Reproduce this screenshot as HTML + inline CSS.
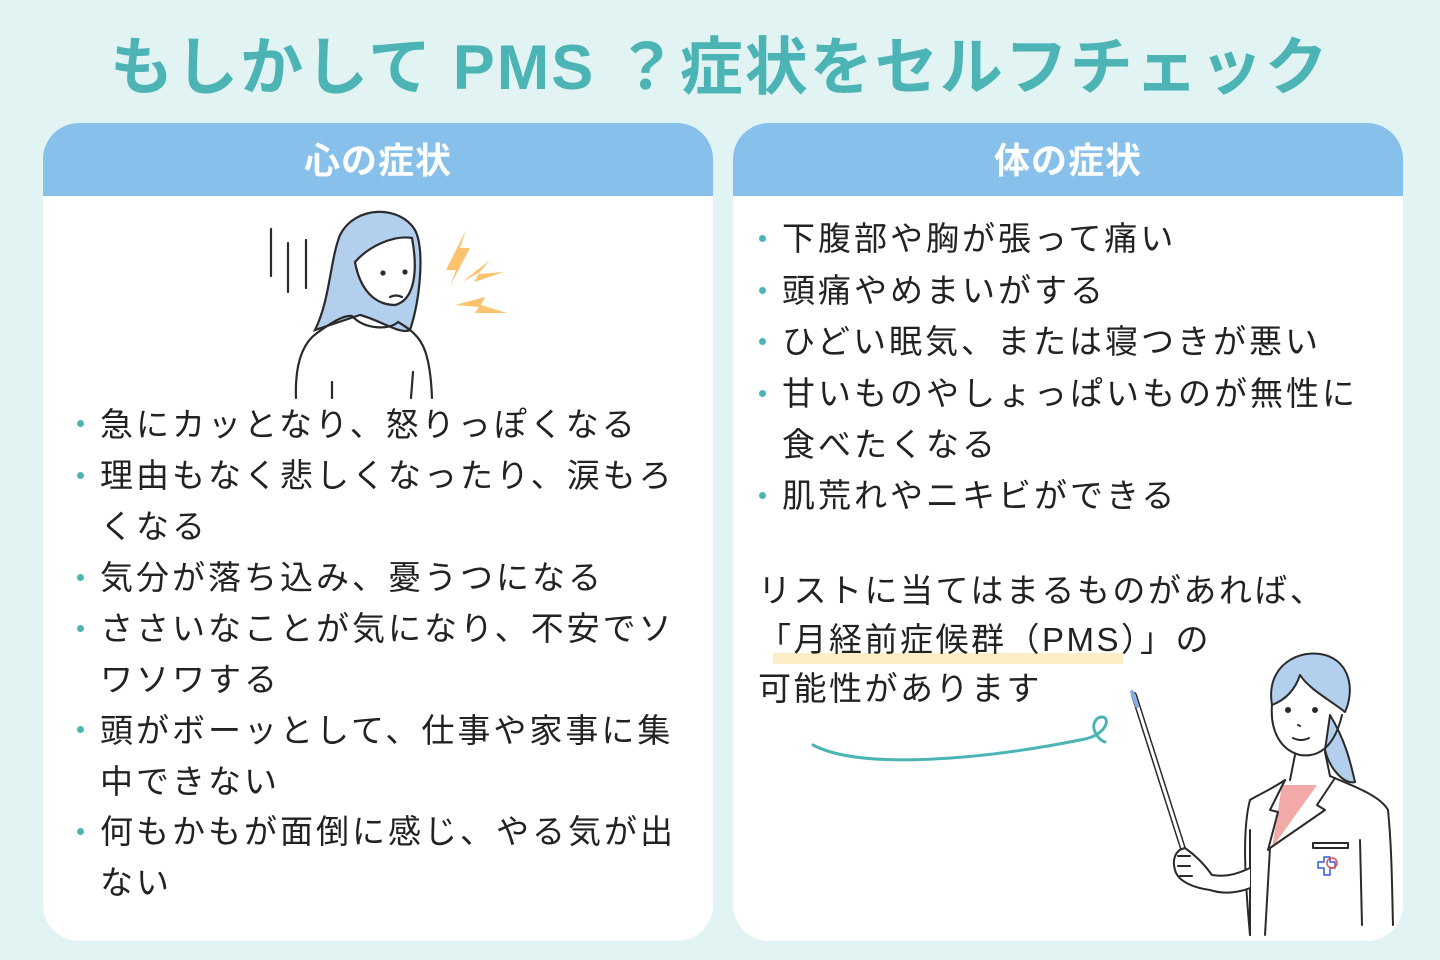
<!DOCTYPE html>
<html><head><meta charset="utf-8"><style>
html,body{margin:0;width:1440px;height:960px;overflow:hidden}
body{background:#e1f3f3;font-family:"Liberation Sans","Noto Sans CJK JP",sans-serif;position:relative;color:#222}
.title{position:absolute;top:28px;left:0;width:1440px;text-align:center;font-size:63px;font-weight:bold;color:#4cb4b4;letter-spacing:2px;line-height:80px}
.panel{position:absolute;top:123px;width:670px;height:818px;background:#fff;border-radius:36px;overflow:hidden}
.hd{height:73px;background:#87c1eb;color:#fff;font-size:36px;font-weight:bold;text-align:center;line-height:76px;letter-spacing:1px}
.it{position:absolute;font-size:33px;letter-spacing:3px;line-height:51px}
.b{position:absolute;width:7px;height:7px;border-radius:50%;background:#4cb4b4}
</style></head><body>
<div class="title">もしかして PMS ？症状をセルフチェック</div>
<div class="panel" style="left:43px"><div class="hd">心の症状</div>
<svg style="position:absolute;left:217px;top:77px" width="270" height="205" viewBox="260 200 270 205" fill="none" stroke="#2a2a2a" stroke-width="2.2" stroke-linecap="round">
<path d="M315 330 C330 300 330 260 340 235 C355 205 400 205 415 230 C425 250 420 300 410 330 C400 335 380 320 360 315 Z" fill="#b3cfee"/>
<path d="M355 262 C370 245 395 235 412 238 C418 270 415 300 395 305 C375 305 360 290 355 262Z" fill="#fff"/>
<path d="M317 333 C335 320 345 315 352 316 C365 330 390 330 398 322 C420 335 430 345 432 398"/>
<path d="M317 333 C300 345 295 370 296 398"/>
<line x1="271" y1="229" x2="271" y2="276"/><line x1="288" y1="243" x2="288" y2="292"/><line x1="306" y1="240" x2="306" y2="288"/>
<line x1="332" y1="382" x2="332" y2="398"/><line x1="413" y1="372" x2="411" y2="398"/>
<circle cx="383" cy="273" r="1.5" fill="#222"/><circle cx="405" cy="272" r="1.5" fill="#222"/>
<path d="M390 297 q6-3 12 0"/>
<path d="M446 270 l20-40 -6 18 10 0 -20 38 6-16z" fill="#fbc36d" stroke="none"/>
<path d="M462 282 l28-22 -12 14 26 -2 -30 10 6-10z" fill="#fbc36d" stroke="none"/>
<path d="M455 305 l30-8 -4 8 26 8 -32 0 4-6z" fill="#fbc36d" stroke="none"/>
</svg>
<div class="b" style="left:34px;top:297px"></div><div class="it" style="left:57px;top:276px">急にカッとなり、怒りっぽくなる</div>
<div class="b" style="left:34px;top:349px"></div><div class="it" style="left:57px;top:327px">理由もなく悲しくなったり、涙もろ<br>くなる</div>
<div class="b" style="left:34px;top:451px"></div><div class="it" style="left:57px;top:429px">気分が落ち込み、憂うつになる</div>
<div class="b" style="left:34px;top:502px"></div><div class="it" style="left:57px;top:480px">ささいなことが気になり、不安でソ<br>ワソワする</div>
<div class="b" style="left:34px;top:603px"></div><div class="it" style="left:57px;top:582px">頭がボーッとして、仕事や家事に集<br>中できない</div>
<div class="b" style="left:34px;top:705px"></div><div class="it" style="left:57px;top:683px">何もかもが面倒に感じ、やる気が出<br>ない</div>
</div>
<div class="panel" style="left:733px"><div class="hd">体の症状</div>
<div class="b" style="left:26px;top:112px"></div><div class="it" style="left:49px;top:90px">下腹部や胸が張って痛い</div>
<div class="b" style="left:26px;top:164px"></div><div class="it" style="left:49px;top:142px">頭痛やめまいがする</div>
<div class="b" style="left:26px;top:215px"></div><div class="it" style="left:49px;top:193px">ひどい眠気、または寝つきが悪い</div>
<div class="b" style="left:26px;top:267px"></div><div class="it" style="left:49px;top:245px">甘いものやしょっぱいものが無性に<br>食べたくなる</div>
<div class="b" style="left:26px;top:369px"></div><div class="it" style="left:49px;top:347px">肌荒れやニキビができる</div>
<div style="position:absolute;left:40px;top:530px;width:350px;height:11px;background:#fcefc5"></div>
<div class="it" style="left:25px;top:443px;line-height:49px;letter-spacing:2.5px">リストに当てはまるものがあれば、<br>「月経前症候群（PMS）」の<br>可能性があります</div>
</div>
<svg style="position:absolute;left:0;top:0" width="1440" height="960" fill="none" stroke="#2a2a2a" stroke-width="2" stroke-linecap="round" stroke-linejoin="round">
<path d="M813 745 C860 770 980 760 1080 740 C1110 736 1112 712 1098 718 C1088 726 1098 740 1105 742" stroke="#4cb4b4" stroke-width="3"/>
<path d="M1134 695 L1186 858" stroke-width="6"/><path d="M1134 695 L1186 858" stroke="#fff" stroke-width="3"/>
<path d="M1132 692 L1137 706" stroke="#87aee0" stroke-width="4"/>
<path d="M1330 715 C1345 740 1350 760 1355 782 C1345 785 1330 770 1325 750 Z" fill="#b3cfee"/>
<path d="M1272 705 C1265 665 1300 648 1325 655 C1350 662 1355 690 1345 712 C1330 700 1310 690 1300 675 C1295 690 1285 700 1272 705Z" fill="#b3cfee"/>
<path d="M1272 705 C1270 730 1280 750 1300 755 C1320 758 1335 745 1342 715"/>
<circle cx="1288" cy="710" r="2" fill="#222"/><circle cx="1315" cy="710" r="2" fill="#222"/>
<path d="M1293 738 q8 4 16 0"/><path d="M1298 725 l2 1"/>
<path d="M1295 755 L1290 780 M1325 752 L1330 776"/>
<path d="M1282 785 L1317 785 L1272 848Z" fill="#f2aaa8" stroke="none"/>
<path d="M1285 780 C1270 790 1258 795 1250 800 C1242 830 1245 880 1250 935"/>
<path d="M1330 776 C1350 785 1380 795 1388 810 C1392 850 1392 890 1393 925"/>
<path d="M1285 780 L1270 810 L1278 812 L1268 850 M1335 778 L1317 805 L1325 810 L1270 848"/>
<path d="M1270 848 L1265 935 M1360 840 L1362 925 M1250 830 L1250 935"/>
<rect x="1313" y="843" width="35" height="5" fill="#fff"/>
<path d="M1318 862 h6 v-5 h6 v5 h5 v6 h-5 v7 h-6 v-7 h-6z" stroke="#3358d8" stroke-width="1.5"/>
<circle cx="1332" cy="863" r="5" stroke="#e84b4b" stroke-width="1.5"/>
<path d="M1250 868 C1235 875 1225 877 1212 875 C1205 865 1195 855 1185 848 C1175 850 1172 860 1175 870 C1178 882 1195 888 1210 890 C1225 895 1240 892 1250 888" fill="#fff"/>
<path d="M1178 856 h12 M1178 866 h12 M1180 876 h12"/>
</svg>
</body></html>
